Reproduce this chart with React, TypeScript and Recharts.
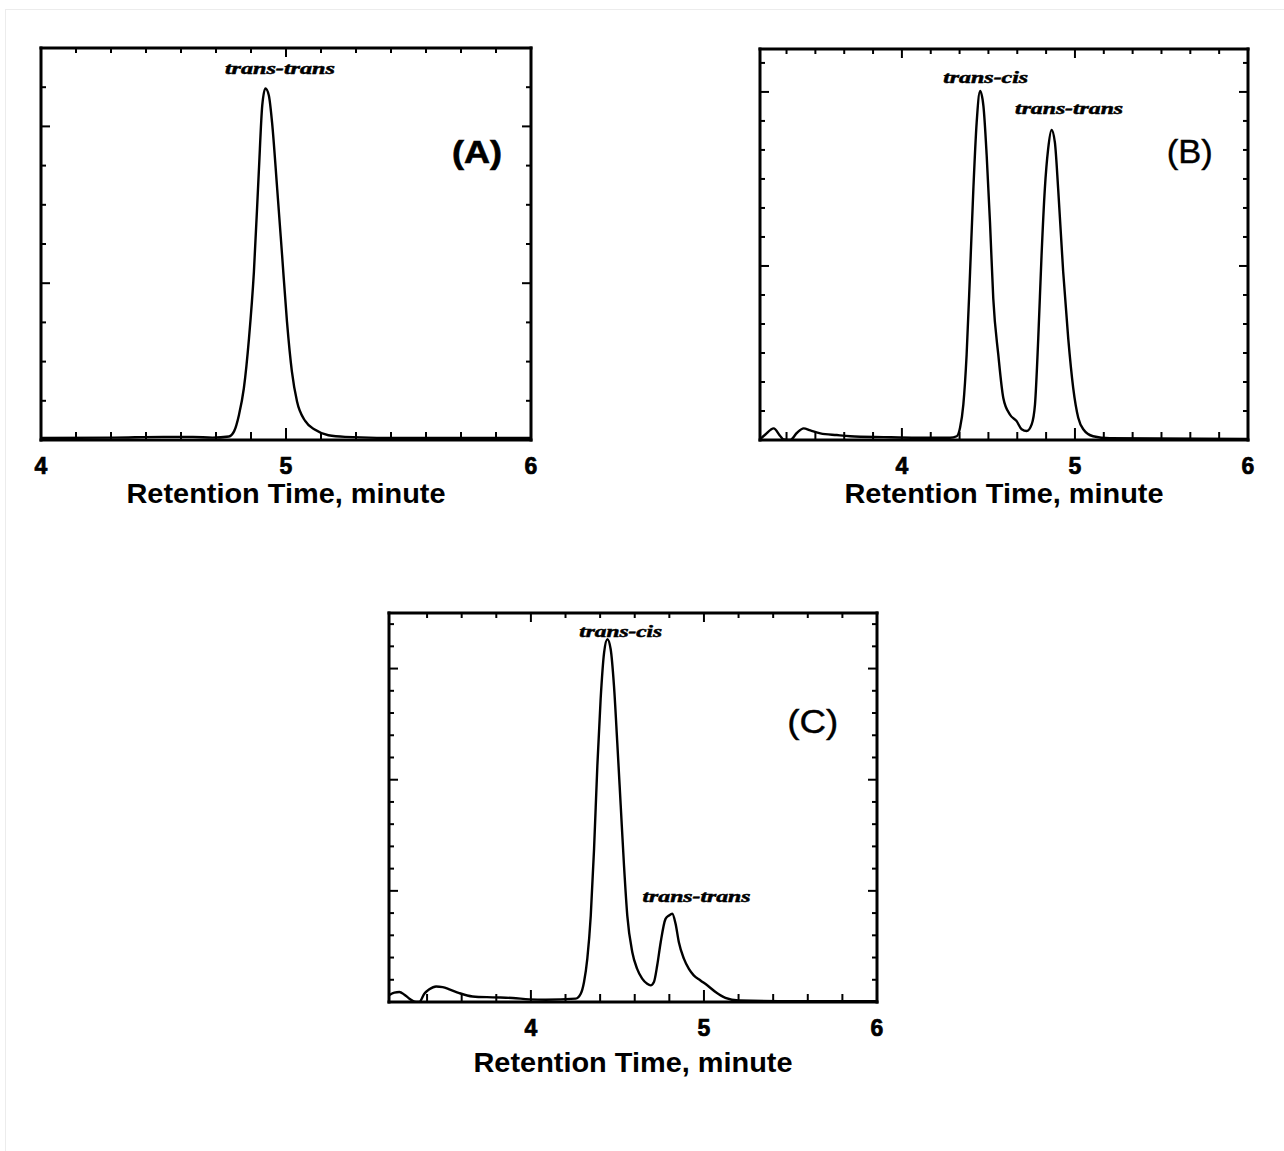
import React from 'react'
import { LineChart, Line, XAxis, YAxis, ReferenceDot, ReferenceLine } from 'recharts'

// Panel A: pure trans-trans
const timeA = [4.0, 4.3, 4.5, 4.62, 4.7, 4.767, 4.788, 4.808, 4.828, 4.849, 4.869, 4.889, 4.903, 4.916, 4.93, 4.943, 4.964, 4.984, 5.004, 5.024, 5.045, 5.079, 5.119, 5.173, 5.241, 5.5, 6.0]
const signalA = [0.05, 0.06, 0.08, 0.08, 0.06, 0.09, 0.22, 0.64, 1.32, 2.6, 4.29, 6.84, 8.53, 8.97, 8.79, 8.11, 6.41, 4.72, 3.02, 1.75, 0.98, 0.48, 0.26, 0.12, 0.08, 0.05, 0.05]

// Panel B: trans-cis + trans-trans
const timeB = [3.18, 3.211, 3.259, 3.298, 3.317, 3.355, 3.394, 3.432, 3.471, 3.529, 3.624, 3.701, 3.894, 4.086, 4.278, 4.317, 4.336, 4.355, 4.374, 4.394, 4.413, 4.432, 4.452, 4.471, 4.49, 4.509, 4.528, 4.557, 4.586, 4.624, 4.663, 4.692, 4.721, 4.75, 4.769, 4.788, 4.807, 4.826, 4.845, 4.865, 4.884, 4.903, 4.932, 4.961, 4.99, 5.019, 5.048, 5.105, 5.201, 6.0]
const signalB = [0.02, 0.19, 0.4, 0.13, 0.02, 0, 0.25, 0.4, 0.33, 0.23, 0.17, 0.13, 0.1, 0.08, 0.08, 0.13, 0.42, 1.22, 2.94, 5.8, 8.66, 10.94, 12.03, 11.52, 9.8, 7.51, 4.88, 2.94, 1.45, 0.88, 0.65, 0.37, 0.31, 0.54, 1.22, 3.51, 6.37, 8.66, 10.03, 10.69, 10.26, 8.66, 5.8, 3.51, 1.79, 0.77, 0.37, 0.13, 0.06, 0.04]

// Panel C
const timeC = [3.18, 3.211, 3.24, 3.269, 3.298, 3.336, 3.355, 3.384, 3.413, 3.452, 3.49, 3.529, 3.586, 3.663, 3.779, 3.894, 3.99, 4.086, 4.259, 4.288, 4.307, 4.326, 4.346, 4.365, 4.384, 4.403, 4.423, 4.442, 4.461, 4.48, 4.499, 4.519, 4.538, 4.557, 4.586, 4.614, 4.643, 4.672, 4.692, 4.711, 4.73, 4.75, 4.778, 4.798, 4.817, 4.836, 4.855, 4.884, 4.913, 4.941, 4.98, 5.019, 5.067, 5.124, 5.201, 5.432, 6.0]
const signalC = [0.3, 0.42, 0.45, 0.33, 0.15, 0, 0, 0.37, 0.57, 0.7, 0.67, 0.57, 0.4, 0.25, 0.21, 0.18, 0.12, 0.1, 0.15, 0.37, 0.9, 1.95, 3.89, 6.89, 10.63, 13.63, 15.72, 16.32, 15.87, 14.23, 11.68, 8.84, 6.14, 3.89, 2.24, 1.49, 1.05, 0.82, 0.75, 0.9, 1.65, 2.69, 3.74, 3.89, 3.97, 3.52, 2.69, 1.95, 1.49, 1.2, 0.97, 0.75, 0.45, 0.19, 0.07, 0.04, 0.04]

// ticks
const xMinorA = [4.1429, 4.2857, 4.4286, 4.5714, 4.7143, 4.8571, 5.1429, 5.2857, 5.4286, 5.5714, 5.7143, 5.8571]
const xMinorB = [3.3333, 3.5, 3.6667, 3.8333, 4.1667, 4.3333, 4.5, 4.6667, 4.8333, 5.1667, 5.3333, 5.5, 5.6667, 5.8333]
const xMinorC = [3.4, 3.6, 3.8, 4.2, 4.4, 4.6, 4.8, 5.2, 5.4, 5.6, 5.8]
const xMajor = [4, 5, 6]
const xLabels = [4, 5, 6]
const yTicksA = [1, 2, 3, 4, 5, 6, 7, 8, 9]
const yMajorA = [4, 8]
const yTicksB = [1, 2, 3, 4, 5, 6, 7, 8, 9, 10, 11, 12, 13]
const yMajorB = [6, 12]
const yTicksC = [1, 2, 3, 4, 5, 6, 7, 8, 9, 10, 11, 12, 13, 14, 15, 16, 17]
const yMajorC = [5, 10, 15]

const SANS = "'Liberation Sans', Arial, sans-serif"
const SERIF = "'Liberation Serif', 'Times New Roman', serif"
const MINOR = 5
const MAJOR = 9
const M = 20

type Note = { text: string; t: number; v: number; kind: 'peak' | 'panel'; width: number; bold?: boolean; size?: number }
type Cfg = {
  left: number; top: number; w: number; h: number
  time: number[]; signal: number[]
  xDomain: [number, number]; yDomain: [number, number]
  xMinor: number[]; yTicks: number[]; yMajor: number[]
  notes: Note[]; titleDy: number
}

const near = (arr: number[], v: number) => arr.some((a) => Math.abs(a - v) < 1e-6)

function Panel({ cfg }: { cfg: Cfg }) {
  const rows = cfg.time.map((t, i) => ({ t, v: cfg.signal[i] }))
  const xTicks = Array.from(new Set([...cfg.xMinor, ...xMajor])).sort((a, b) => a - b)
  const isEdgeX = (v: number) => Math.abs(v - cfg.xDomain[0]) < 1e-6 || Math.abs(v - cfg.xDomain[1]) < 1e-6
  const inner = xTicks.filter((v) => !isEdgeX(v))
  const unitsPerPx = (cfg.yDomain[1] - cfg.yDomain[0]) / cfg.h
  const frame = { stroke: '#000', strokeWidth: 3, strokeLinecap: 'square' as const }

  const labelTick = (p: any) => {
    const { x, y, payload } = p
    return (
      <text x={x} y={y + 34} textAnchor="middle" fontFamily={SANS} fontWeight="bold" fontSize={23}
        stroke="#000" strokeWidth={0.7} fill="#000">{payload.value}</text>
    )
  }
  const xMark = (p: any) => {
    const { x, y, payload } = p
    const v = payload.value
    if (isEdgeX(v)) return <g />
    const len = near(xMajor, v) ? MAJOR : MINOR
    return <line x1={x} x2={x} y1={y} y2={y + len} stroke="#000" strokeWidth={2} />
  }
  const yMark = (dir: number) => (p: any) => {
    const { x, y, payload } = p
    const len = near(cfg.yMajor, payload.value) ? MAJOR : MINOR
    return <line x1={x} x2={x + dir * len} y1={y} y2={y} stroke="#000" strokeWidth={2} />
  }

  const noteContent = (n: Note) => (p: any) => {
    const vb = p.viewBox
    if (n.kind === 'peak') {
      return (
        <text x={vb.x} y={vb.y} textAnchor="middle" fontFamily={SERIF} fontStyle="italic" fontWeight="bold" fontSize={16}
          textLength={n.width} lengthAdjust="spacingAndGlyphs" stroke="#000" strokeWidth={0.5} fill="#000">{n.text}</text>
      )
    }
    return (
      <text x={vb.x} y={vb.y} textAnchor="middle" fontFamily={SANS} fontWeight={n.bold ? 'bold' : 'normal'} fontSize={n.size}
        textLength={n.width} lengthAdjust="spacingAndGlyphs" stroke="#000" strokeWidth={n.bold ? 0.6 : 0.4} fill="#000">{n.text}</text>
    )
  }

  const W = cfg.w + 2 * M
  const H = cfg.h + M + 80
  return (
    <div style={{ position: 'absolute', left: cfg.left - M, top: cfg.top - M, width: W, height: H }}>
      <LineChart width={W} height={H} data={rows} margin={{ top: M, right: M, left: M, bottom: 0 }}>
        <XAxis xAxisId="b" dataKey="t" type="number" orientation="bottom" domain={cfg.xDomain} allowDataOverflow
          ticks={xLabels} interval={0} height={80} tickSize={0} tickMargin={0} tickLine={false} axisLine={frame} tick={labelTick}
          label={{
            content: (p: any) => {
              const vb = p.viewBox
              return (
                <text x={vb.x + vb.width / 2} y={vb.y + cfg.titleDy} textAnchor="middle" fontFamily={SANS} fontWeight="bold"
                  fontSize={28} textLength={319} lengthAdjust="spacingAndGlyphs" fill="#000">Retention Time, minute</text>
              )
            },
          }} />
        <XAxis xAxisId="t" dataKey="t" type="number" orientation="top" mirror domain={cfg.xDomain} allowDataOverflow
          ticks={xTicks} interval={0} height={1} tickSize={0} tickMargin={0} tickLine={false} axisLine={frame} tick={xMark} />
        <YAxis yAxisId="l" type="number" orientation="left" mirror domain={cfg.yDomain} allowDataOverflow
          ticks={cfg.yTicks} interval={0} width={1} tickSize={0} tickMargin={0} tickLine={false} axisLine={frame} tick={yMark(1)} />
        <YAxis yAxisId="r" type="number" orientation="right" mirror domain={cfg.yDomain} allowDataOverflow
          ticks={cfg.yTicks} interval={0} width={1} tickSize={0} tickMargin={0} tickLine={false} axisLine={frame} tick={yMark(-1)} />
        {inner.map((v) => (
          <ReferenceLine key={'bt' + v} xAxisId="b" yAxisId="l" ifOverflow="visible" stroke="#000" strokeWidth={2}
            segment={[{ x: v, y: cfg.yDomain[0] }, { x: v, y: cfg.yDomain[0] + (near(xMajor, v) ? MAJOR + 3 : MINOR + 3) * unitsPerPx }]} />
        ))}
        <Line xAxisId="b" yAxisId="l" dataKey="v" type="monotone" stroke="#000" strokeWidth={2.4} dot={false}
          activeDot={false} isAnimationActive={false} />
        {cfg.notes.map((n) => (
          <ReferenceDot key={n.text + n.t} xAxisId="b" yAxisId="l" x={n.t} y={n.v} r={0} fill="none" stroke="none"
            label={{ content: noteContent(n) }} />
        ))}
      </LineChart>
    </div>
  )
}

const panelA: Cfg = {
  left: 41, top: 48, w: 490, h: 392, time: timeA, signal: signalA,
  xDomain: [4, 6], yDomain: [0, 10], xMinor: xMinorA, yTicks: yTicksA, yMajor: yMajorA, titleDy: 63,
  notes: [
    { text: 'trans-trans', t: 4.975, v: 9.34, kind: 'peak', width: 110 },
    { text: '(A)', t: 5.78, v: 7.06, kind: 'panel', width: 50, bold: true, size: 32 },
  ],
}
const panelB: Cfg = {
  left: 760, top: 49, w: 488, h: 391, time: timeB, signal: signalB,
  xDomain: [3.18, 6], yDomain: [0, 13.48], xMinor: xMinorB, yTicks: yTicksB, yMajor: yMajorB, titleDy: 63,
  notes: [
    { text: 'trans-cis', t: 4.484, v: 12.32, kind: 'peak', width: 85 },
    { text: 'trans-trans', t: 4.966, v: 11.23, kind: 'peak', width: 108 },
    { text: '(B)', t: 5.664, v: 9.56, kind: 'panel', width: 46, size: 33 },
  ],
}
const panelC: Cfg = {
  left: 389, top: 613, w: 488, h: 389, time: timeC, signal: signalC,
  xDomain: [3.18, 6], yDomain: [0, 17.5], xMinor: xMinorC, yTicks: yTicksC, yMajor: yMajorC, titleDy: 70,
  notes: [
    { text: 'trans-cis', t: 4.519, v: 16.4, kind: 'peak', width: 83 },
    { text: 'trans-trans', t: 4.957, v: 4.48, kind: 'peak', width: 108 },
    { text: '(C)', t: 5.629, v: 12.11, kind: 'panel', width: 51, size: 34 },
  ],
}

export default function App() {
  return (
    <div style={{ position: 'absolute', left: 0, top: 0, width: 1284, height: 1151, background: '#fff', overflow: 'hidden' }}>
      <div style={{ position: 'absolute', left: 5, top: 9, width: 1279, height: 1142, borderTop: '1px solid #ececec', borderLeft: '1px solid #ececec' }} />
      <Panel cfg={panelA} />
      <Panel cfg={panelB} />
      <Panel cfg={panelC} />
    </div>
  )
}
